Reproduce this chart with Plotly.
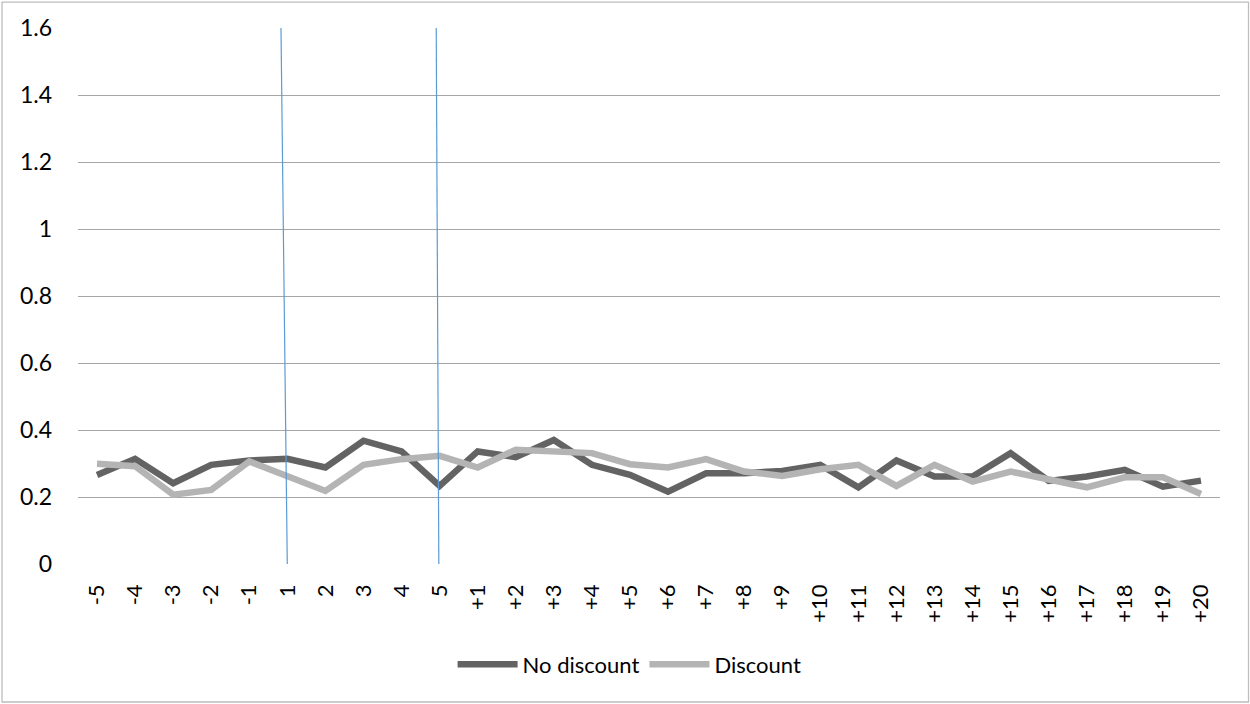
import plotly.graph_objects as go

# Period labels: before, during (1-5) and after (+1..+20) the promotion
periods = ["-5", "-4", "-3", "-2", "-1", "1", "2", "3", "4", "5"] + [f"+{i}" for i in range(1, 21)]

no_discount = [0.266, 0.314, 0.241, 0.296, 0.309, 0.314, 0.288, 0.368, 0.336, 0.233,
               0.336, 0.319, 0.370, 0.296, 0.266, 0.216, 0.271, 0.271, 0.278, 0.296,
               0.229, 0.309, 0.261, 0.261, 0.331, 0.248, 0.261, 0.281, 0.231, 0.249]

discount = [0.299, 0.292, 0.207, 0.221, 0.306, 0.264, 0.218, 0.296, 0.313, 0.323,
            0.288, 0.341, 0.336, 0.331, 0.298, 0.288, 0.313, 0.276, 0.263, 0.283,
            0.296, 0.233, 0.296, 0.246, 0.276, 0.254, 0.229, 0.259, 0.259, 0.209]

# Hand-drawn markers bracketing the promotion window (start/end period)
window_edges = ["1", "5"]
y_ticks = [0, 0.2, 0.4, 0.6, 0.8, 1, 1.2, 1.4, 1.6]

FONT = "Lato, Carlito, Calibri, 'Noto Sans', sans-serif"
W, H = 1250, 704
ML, MR, MT, MB = 78, 30, 27.5, 139.7
PW, PH = W - ML - MR, H - MT - MB


def px_x(p):
    return (p - ML) / PW


def px_y(p):
    return (H - MB - p) / PH


fig = go.Figure()
fig.add_trace(go.Scatter(x=periods, y=no_discount, mode="lines", name="No discount",
                         line=dict(color="#636363", width=6.5)))
fig.add_trace(go.Scatter(x=periods, y=discount, mode="lines", name="Discount",
                         line=dict(color="#b4b4b4", width=6.5)))

# slightly slanted vertical lines at the window edges
slants = [(-0.17, 1.62, 0.0), (-0.09, 1.607, -0.02)]
for edge, (dx, ytop, dx_bot) in zip(window_edges, slants):
    idx = periods.index(edge)
    fig.add_shape(type="line", xref="x", yref="y",
                  x0=idx + dx, y0=ytop, x1=idx + dx_bot, y1=-0.026,
                  line=dict(color="#5b9bd5", width=1.2))

# chart frame
fig.add_shape(type="rect", xref="paper", yref="paper",
              x0=px_x(2), x1=px_x(1248.5), y0=px_y(702.5), y1=px_y(1.5),
              line=dict(color="#bdbdbd", width=1.3), fillcolor="rgba(0,0,0,0)", layer="below")

fig.update_layout(
    width=W, height=H,
    margin=dict(l=ML, r=MR, t=MT, b=MB),
    paper_bgcolor="white", plot_bgcolor="white",
    font=dict(family=FONT, size=23, color="#000000"),
    showlegend=True,
    legend=dict(orientation="h", x=0.483, xanchor="center", y=px_y(665), yanchor="middle",
                font=dict(size=22), itemwidth=60, traceorder="normal",
                bgcolor="rgba(0,0,0,0)"),
    xaxis=dict(type="category", range=[-0.5, len(periods) - 0.5], tickangle=-90,
               showgrid=False, showline=False, ticks="", zeroline=False,
               ticklabelstandoff=15, tickfont=dict(size=22)),
    yaxis=dict(range=[0, 1.6], tickvals=y_ticks, ticktext=[f"{v:g}" for v in y_ticks],
               showgrid=True, gridcolor="#a6a6a6", gridwidth=1.2, zeroline=False,
               showline=False, ticks="", ticklabelstandoff=25, tickfont=dict(size=23)),
)

fig.write_html("out.html")
